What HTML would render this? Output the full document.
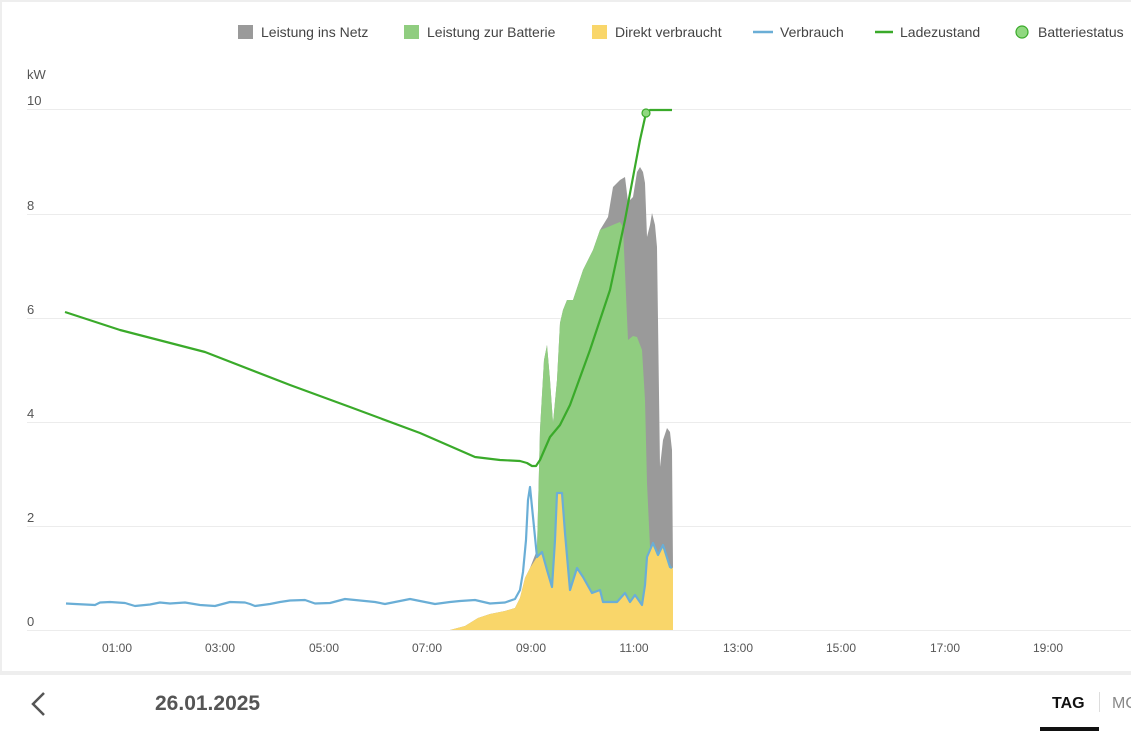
<!DOCTYPE html>
<html><head><meta charset="utf-8"><style>
body{margin:0;background:#fff;font-family:"Liberation Sans",sans-serif}
</style></head><body>
<svg width="1131" height="731" xmlns="http://www.w3.org/2000/svg" style="display:block;font-family:'Liberation Sans',sans-serif">
<rect x="0" y="0" width="1131" height="731" fill="#fff"/>
<rect x="0" y="0" width="1131" height="2" fill="#eee"/>
<rect x="0" y="0" width="2" height="672" fill="#eee"/>
<g font-size="14" fill="#444">
<rect x="238" y="25" width="15" height="14" fill="#9a9a9a"/><text x="261" y="37">Leistung ins Netz</text>
<rect x="404" y="25" width="15" height="14" fill="#90cd80"/><text x="427" y="37">Leistung zur Batterie</text>
<rect x="592" y="25" width="15" height="14" fill="#f9d66a"/><text x="615" y="37">Direkt verbraucht</text>
<line x1="753" y1="32" x2="773" y2="32" stroke="#6aaed6" stroke-width="2.5"/><text x="780" y="37">Verbrauch</text>
<line x1="875" y1="32" x2="893" y2="32" stroke="#3aaa2a" stroke-width="2.5"/><text x="900" y="37">Ladezustand</text>
<circle cx="1022" cy="32" r="6" fill="#90d880" stroke="#3aaa2a" stroke-width="1.2"/><text x="1038" y="37">Batteriestatus</text>
</g>
<g font-size="13" fill="#555">
<text x="27" y="79">kW</text>
<text x="27" y="105">10</text><text x="27" y="210">8</text><text x="27" y="314">6</text>
<text x="27" y="418">4</text><text x="27" y="522">2</text><text x="27" y="626">0</text>
</g>
<g stroke="#ececec" stroke-width="1">
<line x1="27" y1="109.5" x2="1131" y2="109.5"/><line x1="27" y1="214.5" x2="1131" y2="214.5"/>
<line x1="27" y1="318.5" x2="1131" y2="318.5"/><line x1="27" y1="422.5" x2="1131" y2="422.5"/>
<line x1="27" y1="526.5" x2="1131" y2="526.5"/><line x1="27" y1="630.5" x2="1131" y2="630.5"/>
</g>
<!-- gray total -->
<path fill="#9a9a9a" d="M450,630 L465,626 478,618 490,614 505,611 515,608 520,598 525,578 530,568 537,550 540,430 544,360 547,345 550,380 553,423 557,380 560,323 563,310 567,300 573,300 583,270 593,250 600,230 608,217 613,187 620,180 625,177 628,202 633,197 637,172 640,167 643,172 645,183 647,237 650,225 652,213 655,225 657,247 660,467 663,440 667,428 670,432 672,450 673,567 673,630 Z"/>
<!-- green -->
<path fill="#90cd80" d="M537,557 L537,550 540,430 544,360 547,345 550,380 553,423 557,380 560,323 563,310 567,300 573,300 583,270 593,250 600,230 608,227 615,224 620,222 623,227 628,340 633,336 637,337 642,350 645,400 647,483 650,547 650,630 537,630 Z"/>
<!-- yellow -->
<path fill="#f9d66a" d="M450,630 L465,626 478,618 490,614 505,611 515,608 520,598 525,578 530,568 537,557 542,552 547,570 552,587 555,540 557,493 562,493 565,533 570,590 577,568 583,577 592,593 600,590 603,602 617,602 625,593 630,602 635,595 642,605 645,585 647,557 653,543 658,555 663,545 670,567 673,568 673,630 Z"/>
<!-- blue -->
<polyline fill="none" stroke="#6aaed6" stroke-width="2.2" stroke-linejoin="round" points="66,603.5 75,604 95,605 100,602.5 110,602 125,603 135,606 150,604.5 160,602.5 170,603.5 185,602.5 200,605 215,606 230,602 245,602.5 250,604 255,606 270,604 280,602 290,600.5 305,600 315,603.5 330,603 345,599 360,600.5 375,602 385,604 400,601 410,599 420,601 435,604 450,602 460,601 475,600 490,603.5 505,602.5 515,599 520,590 523,572 526,540 528,500 530,487 533,517 537,557 542,552 547,570 552,587 555,540 557,493 562,493 565,533 570,590 577,568 583,577 592,593 600,590 603,602 617,602 625,593 630,602 635,595 642,605 645,585 647,557 653,543 658,555 663,545 670,567 672,568"/>
<!-- SOC -->
<polyline fill="none" stroke="#3aaa2a" stroke-width="2.2" stroke-linejoin="round" points="65,312 120,330 205,352 290,385 350,407 420,433 475,457 500,460 520,461 527,463 532,466 536,466 540,460 550,437 560,425 570,405 590,350 610,290 625,220 640,140 646,113 650,110 672,110"/>
<circle cx="646" cy="113" r="4" fill="#90d880" stroke="#3aaa2a" stroke-width="1.2"/>
<g font-size="12" fill="#555" text-anchor="middle">
<text x="117" y="652">01:00</text><text x="220" y="652">03:00</text><text x="324" y="652">05:00</text>
<text x="427" y="652">07:00</text><text x="531" y="652">09:00</text><text x="634" y="652">11:00</text>
<text x="738" y="652">13:00</text><text x="841" y="652">15:00</text><text x="945" y="652">17:00</text>
<text x="1048" y="652">19:00</text>
</g>
<rect x="0" y="671" width="1131" height="4" fill="#eee"/>
<polyline points="44,693 33,704 44,715" fill="none" stroke="#555" stroke-width="2.5"/>
<text x="155" y="710" font-size="21" font-weight="bold" fill="#555">26.01.2025</text>
<text x="1052" y="708" font-size="16" font-weight="bold" fill="#111">TAG</text>
<line x1="1099.5" y1="692" x2="1099.5" y2="712" stroke="#ddd"/>
<text x="1112" y="708" font-size="16" fill="#888">MO</text>
<rect x="1040" y="727" width="59" height="4" fill="#111"/>
</svg>
</body></html>
